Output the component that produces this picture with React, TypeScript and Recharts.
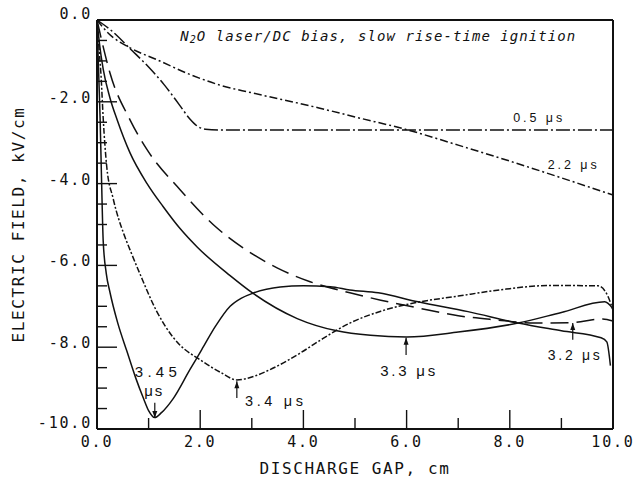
import React from 'react';
import { LineChart, Line, XAxis, YAxis, ReferenceLine, ReferenceDot } from 'recharts';

// curve samples (x = discharge gap in cm, y = field in kV/cm)
const X_05 = [0, 0.3, 0.64, 1.0, 1.3, 1.6, 1.8, 1.95, 2.1, 2.4, 3.0, 4.0, 5.0, 6.0, 7.0, 8.0, 9.0, 10.0];
const Y_05 = [0, -0.28, -0.7, -1.15, -1.58, -2.08, -2.42, -2.6, -2.67, -2.69, -2.69, -2.69, -2.69, -2.69, -2.69, -2.69, -2.69, -2.69];

const X_22 = [0, 0.2, 0.64, 1.16, 1.8, 2.4, 3.0, 4.3, 5.0, 6.0, 7.0, 8.0, 9.0, 10.0];
const Y_22 = [0, -0.3, -0.68, -0.97, -1.33, -1.6, -1.78, -2.15, -2.37, -2.68, -3.06, -3.45, -3.86, -4.28];

const X_32 = [0, 0.1, 0.25, 0.64, 0.97, 1.61, 2.25, 2.83, 3.49, 4.13, 4.9, 5.5, 6.22, 7.0, 7.71, 8.49, 9.2, 9.8, 10.0];
const Y_32 = [0, -0.55, -1.29, -2.44, -3.17, -4.15, -5.0, -5.57, -6.06, -6.4, -6.67, -6.85, -7.04, -7.23, -7.33, -7.41, -7.4, -7.31, -7.36];

const X_33 = [0, 0.05, 0.12, 0.25, 0.39, 0.64, 0.97, 1.28, 1.61, 1.94, 2.58, 3.02, 3.88, 4.65, 5.3, 6.0, 7.0, 8.16, 9.0, 9.84, 10.0];
const Y_33 = [0, -0.6, -1.2, -1.9, -2.44, -3.25, -4.0, -4.56, -5.1, -5.55, -6.25, -6.68, -7.3, -7.6, -7.71, -7.75, -7.63, -7.41, -7.15, -6.89, -7.06];

const X_34 = [0, 0.04, 0.08, 0.12, 0.19, 0.31, 0.54, 0.64, 0.83, 1.16, 1.47, 1.61, 2.0, 2.4, 2.71, 3.0, 3.35, 3.93, 4.3, 4.9, 5.5, 6.22, 7.0, 7.8, 8.78, 9.71, 9.9, 10.0];
const Y_34 = [0, -0.7, -1.4, -2.4, -3.6, -4.35, -5.3, -5.62, -6.2, -7.13, -7.75, -7.95, -8.31, -8.62, -8.8, -8.73, -8.55, -8.15, -7.85, -7.41, -7.12, -6.9, -6.75, -6.6, -6.49, -6.5, -6.75, -7.1];

const X_345 = [0, 0.02, 0.04, 0.06, 0.09, 0.12, 0.18, 0.25, 0.4, 0.58, 0.75, 0.9, 1.0, 1.12, 1.25, 1.48, 1.8, 2.03, 2.3, 2.58, 2.8, 3.02, 3.55, 4.0, 4.52, 4.9, 5.45, 6.22, 7.19, 8.16, 9.0, 9.77, 9.88, 9.95];
const Y_345 = [0, -0.8, -1.6, -2.4, -4.0, -5.4, -6.2, -6.65, -7.4, -8.1, -8.75, -9.25, -9.55, -9.72, -9.6, -9.25, -8.55, -8.06, -7.48, -7.0, -6.8, -6.68, -6.53, -6.5, -6.52, -6.6, -6.67, -6.89, -7.13, -7.41, -7.6, -7.77, -7.87, -8.45];

const X_TICKS = [0, 1, 2, 3, 4, 5, 6, 7, 8, 9, 10];
const Y_TICKS = [-10, -9.5, -9, -8.5, -8, -7.5, -7, -6.5, -6, -5.5, -5, -4.5, -4, -3.5, -3, -2.5, -2, -1.5, -1, -0.5, 0];

// annotation text: [label, x, y, width, font size]
const LABELS: Array<[string, number, number, number, number]> = [
  ['0.5 \u03bcs', 8.54, -2.39, 49, 12.5],
  ['2.2 \u03bcs', 9.21, -3.54, 49, 12.5],
  ['3.45', 1.14, -8.6, 42, 15],
  ['\u03bcs', 1.09, -9.07, 18, 15],
  ['3.4 \u03bcs', 3.43, -9.31, 58, 14.5],
  ['3.3 \u03bcs', 6.02, -8.56, 55, 15],
  ['3.2 \u03bcs', 9.24, -8.19, 52, 14],
];

// arrows: [x, tip y, tail y]
const ARROWS: Array<[number, number, number]> = [
  [1.12, -9.73, -9.36],
  [2.71, -8.83, -9.24],
  [5.99, -7.77, -8.19],
  [9.22, -7.41, -7.82],
];

const toPoints = (xs: number[], ys: number[]) => xs.map((x, i) => ({ x, y: ys[i] }));

const PLOT_LEFT = 97;
const PLOT_BOTTOM = 429;
const MONO = '"DejaVu Sans Mono", monospace';
const SANS = '"Liberation Sans", Arial, sans-serif';
const INK = '#111';

const YTick = (props: any) => {
  const { y, payload } = props;
  const v = payload.value as number;
  const major = Math.abs(v % 2) < 1e-6;
  const len = major ? 20 : 10;
  const dy = v === 0 || v === -10 ? -6 : -4;
  return (
    <g>
      <line x1={PLOT_LEFT} x2={PLOT_LEFT + len} y1={y} y2={y} stroke={INK} strokeWidth={1.4} />
      {major && (
        <text x={92} y={y + dy} textAnchor="end" dominantBaseline="central" fontFamily={MONO} fontSize={15} letterSpacing={1.8} fill={INK}>
          {v.toFixed(1)}
        </text>
      )}
    </g>
  );
};

const XTick = (props: any) => {
  const { x, payload } = props;
  const v = payload.value as number;
  const major = v % 2 === 0;
  const len = major ? 19 : 11;
  return (
    <g>
      <line x1={x} x2={x} y1={PLOT_BOTTOM} y2={PLOT_BOTTOM - len} stroke={INK} strokeWidth={1.4} />
      {major && (
        <text x={x} y={442} textAnchor="middle" dominantBaseline="central" fontFamily={MONO} fontSize={15} letterSpacing={1.8} fill={INK}>
          {v.toFixed(1)}
        </text>
      )}
    </g>
  );
};

const labelShape = (text: string, width: number, size: number) => (props: any) => (
  <text
    x={props.cx}
    y={props.cy}
    textAnchor="middle"
    dominantBaseline="central"
    fontFamily={SANS}
    fontSize={size}
    textLength={width}
    lengthAdjust="spacing"
    fill={INK}
  >
    {text}
  </text>
);

const arrowShape = (tipY: number, tailY: number) => (props: any) => {
  const { cx, cy } = props;
  // tail length in px follows from the y scale: 409px for 10 kV/cm
  const len = ((tipY - tailY) * 409) / 10;
  const dir = len > 0 ? 1 : -1;
  const tail = cy + len;
  return (
    <g>
      <line x1={cx} x2={cx} y1={tail} y2={cy} stroke={INK} strokeWidth={1.2} />
      <path d={`M${cx},${cy} L${cx - 2.5},${cy + dir * 7} L${cx + 2.5},${cy + dir * 7} Z`} fill={INK} />
    </g>
  );
};

const titleShape = (props: any) => (
  <text
    x={props.cx}
    y={props.cy}
    textAnchor="middle"
    dominantBaseline="central"
    fontFamily={MONO}
    fontStyle="italic"
    fontSize={14}
    textLength={395}
    lengthAdjust="spacing"
    fill={INK}
  >
    N<tspan fontSize={10} dy={3}>2</tspan>
    <tspan dy={-3}>O laser/DC bias, slow rise-time ignition</tspan>
  </text>
);

const SERIES = [
  { key: 's05', data: toPoints(X_05, Y_05), dash: '14 3 2 3' },
  { key: 's22', data: toPoints(X_22, Y_22), dash: '8 3 2 3' },
  { key: 's32', data: toPoints(X_32, Y_32), dash: '18 8' },
  { key: 's33', data: toPoints(X_33, Y_33), dash: undefined },
  { key: 's34', data: toPoints(X_34, Y_34), dash: '6 2 2 2' },
  { key: 's345', data: toPoints(X_345, Y_345), dash: undefined },
];

export default function App() {
  return (
    <div style={{ position: 'absolute', left: 0, top: 0, background: '#fff' }}>
      <LineChart width={638} height={481} margin={{ top: 20, right: 25, left: 0, bottom: 0 }}>
        <XAxis
          dataKey="x"
          type="number"
          domain={[0, 10]}
          ticks={X_TICKS}
          interval={0}
          height={52}
          tick={<XTick />}
          tickLine={false}
          axisLine={{ stroke: INK, strokeWidth: 2 }}
          label={{
            value: 'DISCHARGE GAP, cm',
            position: 'insideBottom',
            offset: 7,
            style: { fontFamily: MONO, fontSize: 16, letterSpacing: 1.6, fill: INK },
          }}
        />
        <YAxis
          dataKey="y"
          type="number"
          domain={[-10, 0]}
          ticks={Y_TICKS}
          interval={0}
          width={97}
          tick={<YTick />}
          tickLine={false}
          axisLine={{ stroke: INK, strokeWidth: 2 }}
          label={{
            value: 'ELECTRIC FIELD, kV/cm',
            angle: -90,
            position: 'insideLeft',
            offset: 18,
            style: { fontFamily: MONO, fontSize: 16, letterSpacing: 1.6, fill: INK, textAnchor: 'middle' },
          }}
        />
        <ReferenceLine y={0} stroke={INK} strokeWidth={2} />
        <ReferenceLine x={10} stroke={INK} strokeWidth={2} />
        {SERIES.map((s) => (
          <Line
            key={s.key}
            data={s.data}
            dataKey="y"
            type="monotone"
            stroke={INK}
            strokeWidth={1.5}
            strokeDasharray={s.dash}
            dot={false}
            activeDot={false}
            isAnimationActive={false}
          />
        ))}
        <ReferenceDot x={5.44} y={-0.4} r={0} shape={titleShape} />
        {LABELS.map(([text, x, y, w, size]) => (
          <ReferenceDot key={text + x} x={x} y={y} r={0} shape={labelShape(text, w, size)} />
        ))}
        {ARROWS.map(([x, tip, tail]) => (
          <ReferenceDot key={'a' + x} x={x} y={tip} r={0} shape={arrowShape(tip, tail)} />
        ))}
      </LineChart>
    </div>
  );
}
